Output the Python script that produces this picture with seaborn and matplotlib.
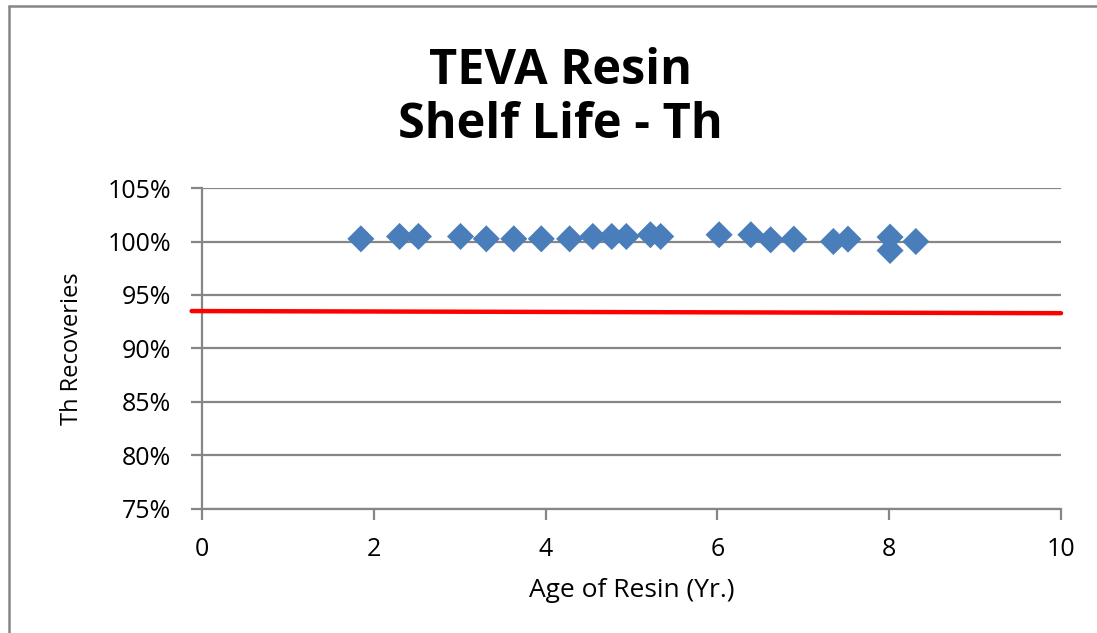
import numpy as np
import pandas as pd
import matplotlib
matplotlib.use('Agg')
import matplotlib.pyplot as plt
import seaborn as sns
from matplotlib.lines import Line2D

# resin age (years) and Th recovery (%)
age_yr = [1.85, 2.30, 2.52, 3.01, 3.31, 3.63, 3.95, 4.28, 4.55, 4.77, 4.94,
          5.22, 5.34, 6.02, 6.39, 6.62, 6.89, 7.35, 7.52, 8.01, 8.01, 8.31]
th_recovery = [100.25, 100.47, 100.47, 100.47, 100.25, 100.25, 100.25, 100.25, 100.47, 100.47, 100.47,
               100.63, 100.47, 100.63, 100.63, 100.16, 100.22, 100.0, 100.22, 100.41, 99.16, 100.0]

# red limit line end points
limit_x = [-0.12, 10.0]
limit_y = [93.5, 93.3]

y_ticks = [75, 80, 85, 90, 95, 100, 105]
x_ticks = [0, 2, 4, 6, 8, 10]

df = pd.DataFrame({'age': age_yr, 'recovery': th_recovery})
limit_df = pd.DataFrame({'age': limit_x, 'recovery': limit_y})

sns.set_style('white')
plt.rcParams['font.family'] = ['Open Sans', 'DejaVu Sans']
plt.rcParams['text.color'] = 'black'
plt.rcParams['axes.labelcolor'] = 'black'

grid_col = '#868686'

fig = plt.figure(figsize=(10.97, 6.33), dpi=100)
ax = fig.add_axes([0.1841, 0.1959, 0.9672 - 0.1841, 0.703 - 0.1959])

sns.lineplot(data=limit_df, x='age', y='recovery', color='#FF0000', linewidth=3.2,
             ax=ax, zorder=3, clip_on=False)
sns.scatterplot(data=df, x='age', y='recovery', marker='D', s=190, color='#4A7EBB',
                edgecolor='none', ax=ax, zorder=4, clip_on=False)

ax.set_xlim(0, 10)
ax.set_ylim(75, 105)
ax.set_xticks(x_ticks)
ax.set_yticks(y_ticks)
ax.set_yticklabels([f'{v}%' for v in y_ticks])
ax.yaxis.grid(True, color=grid_col, linewidth=1.6)
ax.set_axisbelow(True)

for side in ['top', 'right']:
    ax.spines[side].set_visible(False)
for side in ['left', 'bottom']:
    ax.spines[side].set_color(grid_col)
    ax.spines[side].set_linewidth(1.6)

ax.tick_params(axis='both', direction='out', length=8, width=1.6, color=grid_col,
               labelcolor='black', bottom=True, left=True)
ax.tick_params(axis='y', labelsize=18, pad=14)
ax.tick_params(axis='x', labelsize=18, pad=12)

ax.set_xlabel('Age of Resin (Yr.)', fontsize=19, labelpad=12)
ax.set_ylabel('Th Recoveries', fontsize=17, labelpad=17)

fig.text(0.511, 0.925, 'TEVA Resin\nShelf Life - Th', ha='center', va='top',
         fontsize=35, fontweight='bold', linespacing=1.12)

# chart area frame (left and top only)
fig.add_artist(Line2D([9 / 1097, 9 / 1097], [0, 1 - 6 / 633], color=grid_col, linewidth=1.8))
fig.add_artist(Line2D([9 / 1097, 1], [1 - 6 / 633, 1 - 6 / 633], color=grid_col, linewidth=1.8))

fig.savefig('out.png', dpi=100)
